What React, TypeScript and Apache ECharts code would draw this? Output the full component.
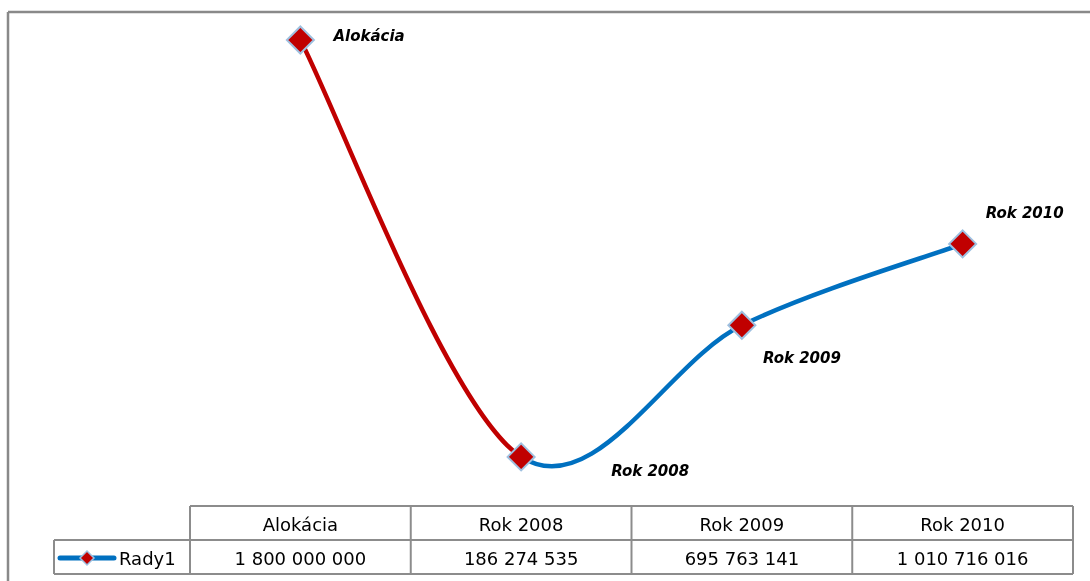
import React, { useEffect, useRef } from "react";
import * as echarts from "echarts";

const categories = ["Alokácia", "Rok 2008", "Rok 2009", "Rok 2010"];
const values = [1800000000, 186274535, 695763141, 1010716016];
const tableValues = ["1 800 000 000", "186 274 535", "695 763 141", "1 010 716 016"];
const seriesName = "Rady1";

const RED = "#C00000";
const BLUE = "#0070C0";
const MARK_BORDER = "#9EC0E0";
const GRID_LINE = "#8C8C8C";
const FONT = "DejaVu Sans";

const labelOffsets: [number, number][] = [
  [33, -4],
  [90, 14],
  [21, 33],
  [23, -31],
];

export default function App() {
  const ref = useRef<HTMLDivElement>(null);
  useEffect(() => {
    if (!ref.current) return;
    const chart = echarts.init(ref.current, undefined, { renderer: "svg" });

    const gridLeft = 190;
    const gridRight = 1073;
    const colW = (gridRight - gridLeft) / categories.length;
    const headTop = 506;
    const rowMid = 540;
    const rowBottom = 574;
    const legendLeft = 54;

    const lineStyle = { stroke: GRID_LINE, lineWidth: 2 };
    const graphics: any[] = [];
    graphics.push({ type: "line", shape: { x1: 8, y1: 12, x2: 1090, y2: 12 }, style: { stroke: "#898989", lineWidth: 2.5 } });
    graphics.push({ type: "line", shape: { x1: 8, y1: 12, x2: 8, y2: 581 }, style: { stroke: "#898989", lineWidth: 2.5 } });
    graphics.push({ type: "line", shape: { x1: gridLeft, y1: headTop, x2: gridRight, y2: headTop }, style: lineStyle });
    graphics.push({ type: "line", shape: { x1: legendLeft, y1: rowMid, x2: gridRight, y2: rowMid }, style: lineStyle });
    graphics.push({ type: "line", shape: { x1: legendLeft, y1: rowBottom, x2: gridRight, y2: rowBottom }, style: lineStyle });
    graphics.push({ type: "line", shape: { x1: legendLeft, y1: rowMid, x2: legendLeft, y2: rowBottom }, style: lineStyle });
    for (let i = 0; i <= categories.length; i++) {
      const x = gridLeft + colW * i;
      graphics.push({ type: "line", shape: { x1: x, y1: headTop, x2: x, y2: rowBottom }, style: lineStyle });
    }
    categories.forEach((c, i) => {
      const cx = gridLeft + colW * (i + 0.5);
      graphics.push({
        type: "text",
        x: cx,
        y: (headTop + rowMid) / 2 + 1,
        style: { text: c, fill: "#000", font: `18px "${FONT}"`, align: "center", verticalAlign: "middle" },
      });
      graphics.push({
        type: "text",
        x: cx,
        y: (rowMid + rowBottom) / 2 + 1,
        style: { text: tableValues[i], fill: "#000", font: `18px "${FONT}"`, align: "center", verticalAlign: "middle" },
      });
    });
    graphics.push({ type: "line", shape: { x1: 60, y1: 558, x2: 114, y2: 558 }, style: { stroke: BLUE, lineWidth: 5, lineCap: "round" } });
    graphics.push({
      type: "polygon",
      shape: { points: [[87, 551], [94, 558], [87, 565], [80, 558]] },
      style: { fill: RED, stroke: MARK_BORDER, lineWidth: 1.5 },
    });
    graphics.push({
      type: "text",
      x: 119,
      y: 558,
      style: { text: seriesName, fill: "#000", font: `18px "${FONT}"`, align: "left", verticalAlign: "middle" },
    });

    // Excel-style smoothed segments (Catmull-Rom to Bezier), coordinates from the axes
    const renderSegment = (params: any, api: any) => {
      const i = params.dataIndex;
      if (i >= values.length - 1) return null;
      const pt = (k: number) => {
        const kk = Math.max(0, Math.min(values.length - 1, k));
        return api.coord([kk, values[kk]]);
      };
      const p0 = pt(i - 1);
      const p1 = pt(i);
      const p2 = pt(i + 1);
      const p3 = pt(i + 2);
      const cp1 = [p1[0] + (p2[0] - p0[0]) / 6, p1[1] + (p2[1] - p0[1]) / 6];
      const cp2 = [p2[0] - (p3[0] - p1[0]) / 6, p2[1] - (p3[1] - p1[1]) / 6];
      return {
        type: "bezierCurve",
        shape: {
          x1: p1[0],
          y1: p1[1],
          x2: p2[0],
          y2: p2[1],
          cpx1: cp1[0],
          cpy1: cp1[1],
          cpx2: cp2[0],
          cpy2: cp2[1],
        },
        style: { stroke: i === 0 ? RED : BLUE, lineWidth: 4.5, fill: null, lineCap: "round" },
      };
    };

    chart.setOption({
      animation: false,
      grid: { left: gridLeft, width: gridRight - gridLeft, top: 40, height: 465, containLabel: false },
      xAxis: { type: "category", data: categories, boundaryGap: true, show: false },
      yAxis: { type: "value", min: 0, max: 1800000000, show: false },
      series: [
        {
          type: "custom",
          name: seriesName,
          data: values.map((v, i) => [i, v]),
          encode: { x: 0, y: 1 },
          renderItem: renderSegment,
          clip: false,
          z: 2,
        },
        {
          type: "scatter",
          data: values.map((v, i) => ({
            value: [i, v],
            label: {
              show: true,
              formatter: categories[i],
              position: "inside",
              align: "left",
              verticalAlign: "middle",
              offset: labelOffsets[i],
              fontFamily: FONT,
              fontStyle: "italic",
              fontWeight: "bold",
              fontSize: 15,
              color: "#000",
            },
          })),
          symbol: "diamond",
          symbolSize: 27,
          itemStyle: { color: RED, borderColor: MARK_BORDER, borderWidth: 2, opacity: 1 },
          z: 3,
        },
      ],
      graphic: graphics,
    });
    return () => chart.dispose();
  }, []);
  return <div ref={ref} style={{ position: "fixed", left: 0, top: 0, width: 1090, height: 581 }} />;
}
